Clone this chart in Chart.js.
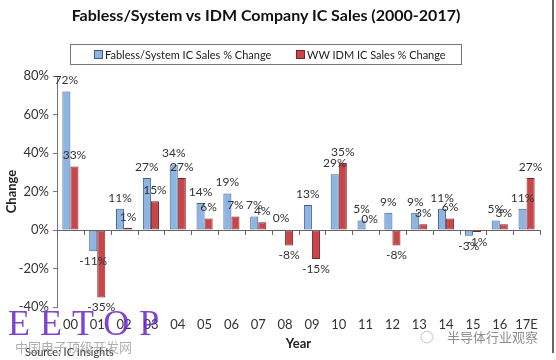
<!DOCTYPE html>
<html><head><meta charset="utf-8">
<script src="https://cdn.jsdelivr.net/npm/chart.js@4.4.1/dist/chart.umd.min.js"></script>
<style>
html,body{margin:0;padding:0;background:#fff;}
#wrap{position:relative;width:556px;height:360px;overflow:hidden;}
#c{position:absolute;left:0;top:0;}
.t{position:absolute;white-space:nowrap;font-family:Lato,"Open Sans",sans-serif;}
#title{left:0;width:532px;top:5px;text-align:center;font-weight:bold;font-size:16px;color:#111;}
#legend{left:70px;top:44px;width:390px;height:19px;border:1px solid #777;font-size:11px;color:#222;line-height:19px;}
.sw{display:inline-block;width:7px;height:7px;border:1px solid;vertical-align:0px;margin-right:2px;}
#eetop{left:8px;top:302px;font-family:"Liberation Serif","DejaVu Serif",serif;font-size:36px;color:rgba(105,35,200,0.85);letter-spacing:10px;}
#cn{left:15px;top:337px;font-size:13px;color:rgba(150,150,150,0.75);font-family:"Noto Sans CJK SC",sans-serif;}
#src{left:25px;top:345px;font-size:11px;color:#333;}
#wxi{left:419px;top:321px;font-size:24px;color:rgba(160,160,160,0.8);}
#wx{left:447px;top:327px;font-size:13px;color:rgba(120,120,120,0.85);font-family:"Noto Sans CJK SC",sans-serif;}
#edge{position:absolute;left:552px;top:0;width:2px;height:353px;background:#666;}
</style></head>
<body><div id="wrap">
<canvas id="c" width="556" height="360"></canvas>
<div class="t" id="title">Fabless/System vs IDM Company IC Sales (2000-2017)</div>
<div class="t" id="legend"><span style="position:absolute;left:23px;"><span class="sw" id="sw1"></span>Fabless/System IC Sales % Change</span><span style="position:absolute;left:225px;"><span class="sw" id="sw2"></span>WW IDM IC Sales % Change</span></div>
<div class="t" id="src">Source: IC Insights</div>
<div class="t" id="cn">中国电子顶级开发网</div>
<div class="t" id="eetop">EETOP</div>
<div class="t" id="wxi">◌</div>
<div class="t" id="wx">半导体行业观察</div>
<div id="edge"></div>
</div>
<script>
const categories = ["00","01","02","03","04","05","06","07","08","09","10","11","12","13","14","15","16","17E"];
const fablessChange = [72,-11,11,27,34,14,19,7,0.4,13,29,5,9,9,11,-3,5,11];
const idmChange = [33,-35,1,15,27,6,7,4,-8,-15,35,0,-8,3,6,-1,3,27];
const fablessLabels = ["72%","-11%","11%","27%","34%","14%","19%","7%","0%","13%","29%","5%","9%","9%","11%","-3%","5%","11%"];
const idmLabels = ["33%","-35%","1%","15%","27%","6%","7%","4%","-8%","-15%","35%","0%","-8%","3%","6%","-1%","3%","27%"];
const yTicks = [-40,-20,0,20,40,60,80];
const seriesNames = ["Fabless/System IC Sales % Change","WW IDM IC Sales % Change"];

const blueFill="#8DB4E2", blueBorder="#3F5F8C", redFill="#C8464A", redBorder="#7A2225";
document.getElementById('sw1').style.cssText+=`background:${blueFill};border-color:${blueBorder}`;
document.getElementById('sw2').style.cssText+=`background:${redFill};border-color:${redBorder}`;

const labelPlugin={id:'lbl',afterDatasetsDraw(chart){
  const ctx=chart.ctx; ctx.save();
  ctx.font='12px Lato, "Open Sans", sans-serif'; ctx.fillStyle='#333'; ctx.textAlign='center';
  const lists=[fablessLabels,idmLabels];
  chart.data.datasets.forEach((ds,di)=>{
    chart.getDatasetMeta(di).data.forEach((el,i)=>{
      const v=ds.data[i];
      if(v>=0){ctx.textBaseline='bottom';ctx.fillText(lists[di][i],el.x,el.y-5);}
      else{ctx.textBaseline='top';ctx.fillText(lists[di][i],el.x,el.y+4);}
    });
  });
  ctx.restore();
}};
const xTickPlugin={id:'xt',afterDatasetsDraw(chart){
  const ctx=chart.ctx, xs=chart.scales.x, ys=chart.scales.y, y0=ys.getPixelForValue(0);
  ctx.save(); ctx.strokeStyle='#666'; ctx.lineWidth=1;
  ctx.beginPath(); ctx.moveTo(xs.left,Math.round(y0)+0.5); ctx.lineTo(xs.right,Math.round(y0)+0.5); ctx.stroke();
  for(let i=0;i<=categories.length;i++){
    const x=Math.round(xs.left+(xs.right-xs.left)*i/categories.length)+0.5;
    ctx.beginPath(); ctx.moveTo(x,y0); ctx.lineTo(x,y0+5); ctx.stroke();
  }
  ctx.restore();
}};

new Chart(document.getElementById('c'),{
  type:'bar',
  data:{labels:categories,datasets:[
    {label:seriesNames[0],data:fablessChange,backgroundColor:blueFill,borderColor:blueBorder,borderWidth:1,borderSkipped:false,categoryPercentage:0.6,barPercentage:1.0},
    {label:seriesNames[1],data:idmChange,backgroundColor:redFill,borderColor:redBorder,borderWidth:1,borderSkipped:false,categoryPercentage:0.6,barPercentage:1.0}
  ]},
  options:{
    responsive:false,animation:false,
    layout:{padding:{top:76,right:16,left:0,bottom:0}},
    plugins:{legend:{display:false},title:{display:false},tooltip:{enabled:false}},
    scales:{
      x:{grid:{display:false},border:{display:false},
        afterFit(s){s.height=53;},
        ticks:{color:'#333',font:{size:13,family:'Lato'},maxRotation:0,padding:2},
        title:{display:true,text:'Year',color:'#222',font:{size:13,weight:'bold',family:'Lato'},padding:{top:2,bottom:8}}},
      y:{min:-40,max:80,
        afterFit(s){s.width=57;},
        afterBuildTicks(ax){ax.ticks=yTicks.map(v=>({value:v}));},
        grid:{drawOnChartArea:false,tickLength:4,color:'#777',tickColor:'#777'},
        border:{display:true,color:'#777'},
        ticks:{color:'#333',font:{size:13,family:'Lato'},padding:4,callback:v=>v+'%'},
        title:{display:true,text:'Change',color:'#222',font:{size:13,weight:'bold',family:'Lato'},padding:{top:4,bottom:2}}}
    }
  },
  plugins:[labelPlugin,xTickPlugin]
});
</script>
</body></html>
